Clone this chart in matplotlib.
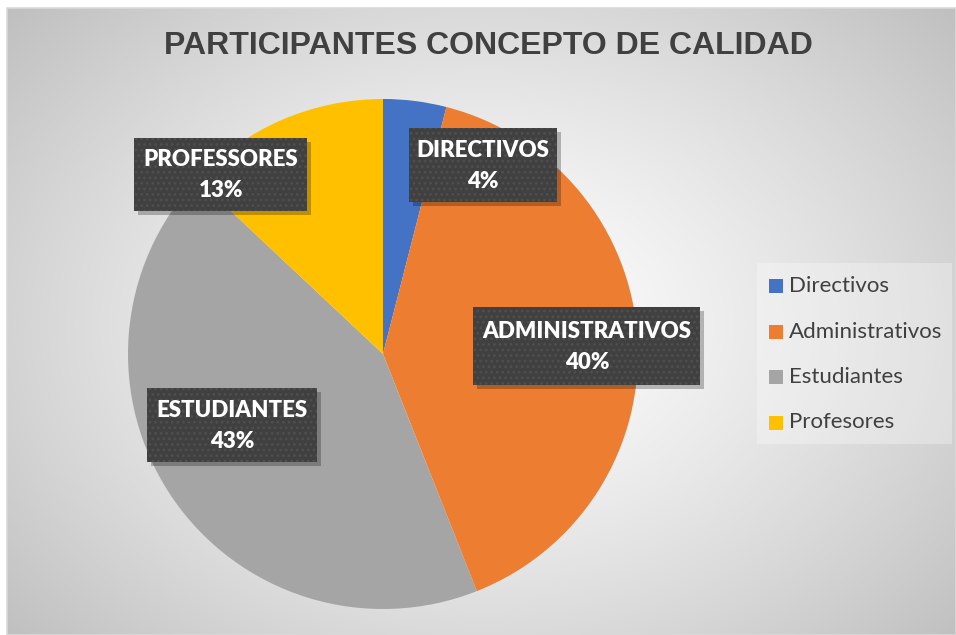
import numpy as np
import matplotlib.pyplot as plt
from matplotlib.patches import Rectangle

# data
categories = ['Directivos', 'Administrativos', 'Estudiantes', 'Profesores']
percentages = [4, 40, 43, 13]
label_names = ['DIRECTIVOS', 'ADMINISTRATIVOS', 'ESTUDIANTES', 'PROFESSORES']
colors = ['#4472C4', '#ED7D31', '#A5A5A5', '#FFC000']
title = 'PARTICIPANTES CONCEPTO DE CALIDAD'

W, H = 956, 635
# label boxes: center x, center y, width, height (pixels, from top-left)
label_boxes = [(483, 165, 148, 74), (587, 346, 227, 78),
               (232, 425, 170, 74), (221, 174, 173, 73)]

fig = plt.figure(figsize=(W / 100, H / 100), dpi=100)
fig.patch.set_facecolor('white')
plt.rcParams['hatch.linewidth'] = 1.2

# background with radial gradient
bg = fig.add_axes([0, 0, 1, 1])
bg.set_axis_off()
yy, xx = np.mgrid[0:H, 0:W]
d = np.hypot((xx - 480) / 560, (yy - 320) / 420)
g = 1 - 0.21 * np.clip(d, 0, 1.15) ** 1.3
img = np.dstack([g, g, g])
bg.imshow(img, extent=(7, W, H, 8), zorder=0, interpolation='bilinear')
bg.add_patch(Rectangle((7, 8), W - 7, H - 8, fill=False, edgecolor='#d9d9d9', lw=1.2, zorder=1))
bg.set_xlim(0, W)
bg.set_ylim(H, 0)

# legend background
bg.add_patch(Rectangle((757, 263), 195, 181, facecolor='white', alpha=0.3, lw=0, zorder=1))

bg.text(488, 46, title, ha='center', va='center', fontsize=23, fontweight='bold',
        color='#404040', family='Liberation Sans')

# pie
cx, cy, r = 383, 354, 255
ax = fig.add_axes([(cx - r) / W, (H - cy - r) / H, 2 * r / W, 2 * r / H])
ax.pie(percentages, colors=colors, startangle=90, counterclock=False, radius=1,
       wedgeprops=dict(linewidth=0))
ax.set_xlim(-1, 1)
ax.set_ylim(-1, 1)
ax.set_axis_off()

# data labels on top
over = fig.add_axes([0, 0, 1, 1])
over.set_xlim(0, W)
over.set_ylim(H, 0)
over.set_axis_off()
over.patch.set_alpha(0)
for name, pct, (bx, by, bw, bh) in zip(label_names, percentages, label_boxes):
    over.add_patch(Rectangle((bx - bw / 2 + 4, by - bh / 2 + 4), bw, bh,
                             facecolor='black', alpha=0.25, lw=0))
    over.add_patch(Rectangle((bx - bw / 2, by - bh / 2), bw, bh,
                             facecolor='#404040', lw=0))
    over.add_patch(Rectangle((bx - bw / 2, by - bh / 2), bw, bh,
                             facecolor='none', edgecolor='#4f4f4f', hatch='...', lw=0))
    over.text(bx, by + 1, f'{name}\n{pct}%', ha='center', va='center', color='white',
              fontsize=16, fontweight='heavy', family='Lato', linespacing=1.6)

# legend
for i, (cat, col) in enumerate(zip(categories, colors)):
    y = 286 + i * 45.5
    over.add_patch(Rectangle((769, y - 7), 14, 14, facecolor=col, lw=0))
    over.text(789, y, cat, ha='left', va='center', fontsize=16, color='#404040', family='Lato')

fig.savefig('out.png', dpi=100)
